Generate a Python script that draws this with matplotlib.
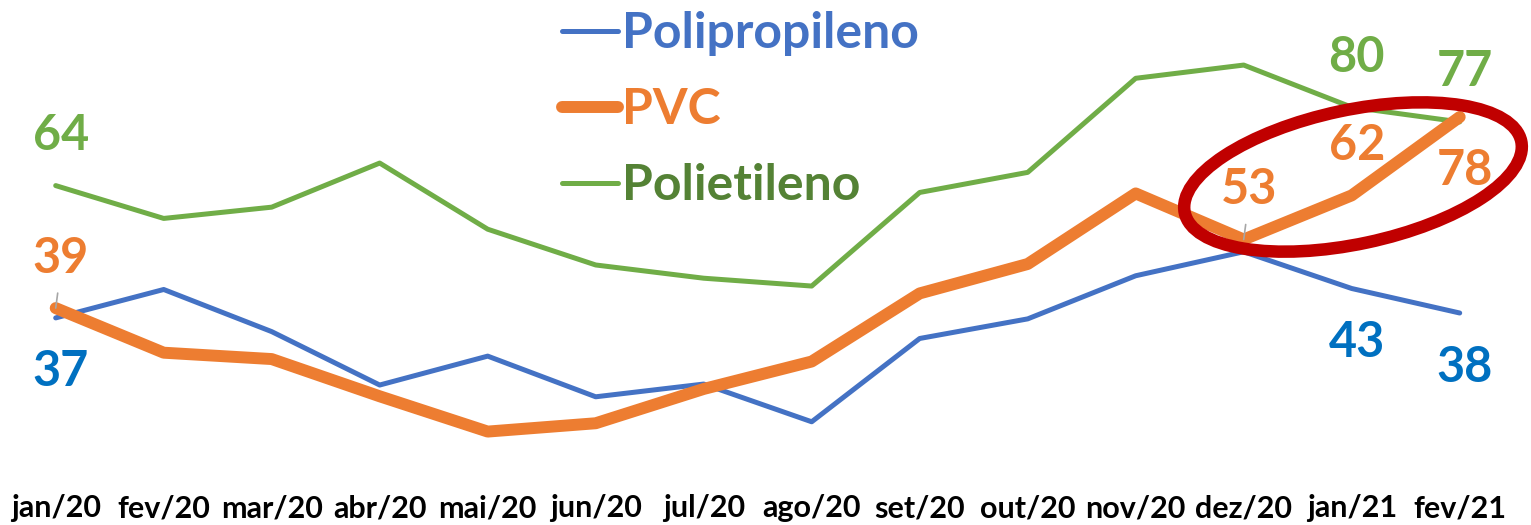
import matplotlib
matplotlib.use("Agg")
import matplotlib.pyplot as plt
from matplotlib.patches import Ellipse
from matplotlib.transforms import IdentityTransform

months = ["jan/20", "fev/20", "mar/20", "abr/20", "mai/20", "jun/20", "jul/20",
          "ago/20", "set/20", "out/20", "nov/20", "dez/20", "jan/21", "fev/21"]
polipropileno = [37, 42.8, 34.2, 23.3, 29.2, 20.9, 23.5, 15.8, 32.8, 36.8, 45.6, 50.5, 43, 38]
pvc = [39, 29.9, 28.6, 21.0, 13.8, 15.5, 22.5, 28.1, 42.0, 48.0, 62.4, 53, 62, 78]
polietileno = [64, 57.3, 59.6, 68.6, 55.1, 47.8, 45.1, 43.5, 62.6, 66.7, 85.9, 88.6, 80, 77]

pp_labels = {0: "37", 12: "43", 13: "38"}
pvc_labels = {0: "39", 11: "53", 12: "62", 13: "78"}
pe_labels = {0: "64", 12: "80", 13: "77"}

C_BLUE = "#4472C4"
C_BLUE_LBL = "#0070C0"
C_ORANGE = "#ED7D31"
C_GREEN = "#70AD47"
C_GREEN_TXT = "#548235"

FONT = "Lato"

W, H = 1531, 525
fig = plt.figure(figsize=(W / 100, H / 100), dpi=100)
ax = fig.add_axes([1.7 / W, (525 - 474.7) / H, 14 * 108 / W, (474.7 - 9.2) / H])
ax.set_xlim(-0.5, 13.5)
ax.set_ylim(5, 100)
for s in ax.spines.values():
    s.set_visible(False)
ax.set_yticks([])
x = list(range(len(months)))
ax.set_xticks(x)
ax.set_xticklabels(months, fontfamily=FONT, fontweight="bold", fontsize=22, color="black")
ax.tick_params(axis="x", length=0, pad=14)

l1, = ax.plot(x, polipropileno, color=C_BLUE, lw=3.6, solid_capstyle="round", label="Polipropileno", zorder=3)
l2, = ax.plot(x, pvc, color=C_ORANGE, lw=8.6, solid_capstyle="round", label="PVC", zorder=4)
l3, = ax.plot(x, polietileno, color=C_GREEN, lw=3.6, solid_capstyle="round", label="Polietileno", zorder=2)

def put_labels(series, labels, color, below):
    for i, t in labels.items():
        dy = -54 if i in below else 50
        ax.annotate(t, (x[i], series[i]), xytext=(5, dy), textcoords="offset pixels",
                    ha="center", va="center", fontfamily=FONT, fontweight="bold",
                    fontsize=35, color=color, zorder=6)

put_labels(polipropileno, pp_labels, C_BLUE_LBL, {0, 12, 13})
put_labels(pvc, pvc_labels, C_ORANGE, {13})
put_labels(polietileno, pe_labels, C_GREEN, set())

# leader lines
for i in (0, 11):
    ax.annotate("", xy=(x[i], pvc[i]), xytext=(2, 15), textcoords="offset pixels",
                arrowprops=dict(arrowstyle="-", color="#A6A6A6", lw=1.2, shrinkA=0, shrinkB=0), zorder=5)

leg = ax.legend(handles=[l1, l2, l3], loc="upper left", bbox_to_anchor=(562 / W, 1 - 11 / H),
                bbox_transform=fig.transFigure, frameon=False, handlelength=1.12,
                handletextpad=0.08, labelspacing=0.62, borderaxespad=0, borderpad=0,
                prop={"family": FONT, "weight": "bold", "size": 36})
for txt, c in zip(leg.get_texts(), [C_BLUE, C_ORANGE, C_GREEN_TXT]):
    txt.set_color(c)

ell = Ellipse((1353, H - 177), 344, 134, angle=12, transform=IdentityTransform(),
              fill=False, edgecolor="#C00000", lw=9, zorder=10)
fig.patches.append(ell)

fig.savefig("out.png", dpi=100)
